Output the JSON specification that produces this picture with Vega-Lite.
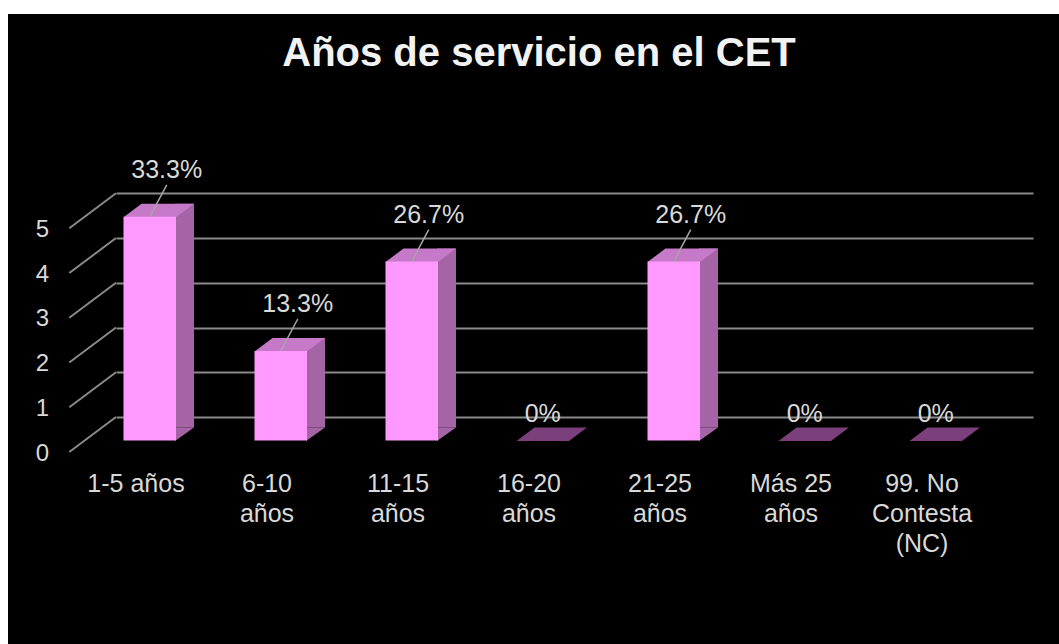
{
  "$schema": "https://vega.github.io/schema/vega-lite/v6.json",
  "width": 1051,
  "height": 630,
  "autosize": {"type": "none"},
  "padding": {"left": 8, "top": 14, "right": 0, "bottom": 0},
  "background": "white",
  "title": {
    "text": "Años de servicio en el CET",
    "font": "Liberation Sans",
    "fontSize": 40,
    "fontWeight": "bold",
    "color": "#f2f2f2",
    "anchor": "middle",
    "frame": "group",
    "baseline": "alphabetic",
    "offset": -92,
    "dx": 5.5
  },
  "config": {
    "view": {"fill": "black", "stroke": null},
    "font": "Liberation Sans"
  },
  "datasets": {
    "servicio": [
      {"rango": "1-5 años", "personas": 5, "porcentaje": "33.3%"},
      {"rango": "6-10\naños", "personas": 2, "porcentaje": "13.3%"},
      {"rango": "11-15\naños", "personas": 4, "porcentaje": "26.7%"},
      {"rango": "16-20\naños", "personas": 0, "porcentaje": "0%"},
      {"rango": "21-25\naños", "personas": 4, "porcentaje": "26.7%"},
      {"rango": "Más 25\naños", "personas": 0, "porcentaje": "0%"},
      {"rango": "99. No\nContesta\n(NC)", "personas": 0, "porcentaje": "0%"}
    ],
    "marcas": [
      {"marca": 0}, {"marca": 1}, {"marca": 2}, {"marca": 3}, {"marca": 4}, {"marca": 5}
    ]
  },
  "layer": [
    {
      "data": {"name": "marcas"},
      "mark": {"type": "point", "shape": "M -112.2 35 L -65.5 0", "size": 4, "filled": false, "stroke": "#8a8a8a", "strokeWidth": 2, "opacity": 1},
      "encoding": {
        "x": {"datum": "1-5 años", "type": "nominal"},
        "y": {"field": "marca", "type": "quantitative"}
      }
    },
    {
      "data": {"name": "servicio"},
      "transform": [{"filter": "datum.personas > 0"}],
      "mark": {"type": "bar", "width": 19, "xOffset": 3, "yOffset": 10.5, "y2Offset": 10.5, "color": "#a564a6", "opacity": 1},
      "encoding": {
        "x": {"field": "rango", "type": "nominal"},
        "y": {"field": "personas", "type": "quantitative"},
        "y2": {"datum": 0}
      }
    },
    {
      "data": {"name": "servicio"},
      "transform": [{"filter": "datum.personas > 0"}],
      "mark": {"type": "point", "shape": "M -6.5 10.5 L 12.5 10.5 L -6.5 24 Z", "size": 4, "filled": true, "strokeWidth": 0, "color": "#a564a6", "opacity": 1},
      "encoding": {
        "x": {"field": "rango", "type": "nominal"},
        "y": {"datum": 0, "type": "quantitative"}
      }
    },
    {
      "data": {"name": "servicio"},
      "mark": {"type": "point", "shape": "M -58 24 L -5.5 24 L 12.5 10.5 L -40 10.5 Z", "size": 4, "filled": true, "strokeWidth": 0, "opacity": 1},
      "encoding": {
        "x": {"field": "rango", "type": "nominal"},
        "y": {"field": "personas", "type": "quantitative"},
        "color": {
          "condition": {"test": "datum.personas == 0", "value": "#7b3f7c"},
          "value": "#c679c8"
        }
      }
    },
    {
      "data": {"name": "servicio"},
      "mark": {"type": "bar", "width": 52.5, "xOffset": -31.75, "yOffset": 23.5, "y2Offset": 23.5, "color": "#ff99ff", "opacity": 1},
      "encoding": {
        "x": {
          "field": "rango",
          "type": "nominal",
          "sort": null,
          "scale": {
            "domain": ["1-5 años", "6-10\naños", "11-15\naños", "16-20\naños", "21-25\naños", "Más 25\naños", "99. No\nContesta\n(NC)"],
            "range": [108, 1025],
            "paddingInner": 0,
            "paddingOuter": 0
          },
          "axis": {
            "title": null,
            "orient": "bottom",
            "offset": -173,
            "domain": false,
            "ticks": false,
            "tickSize": 0,
            "grid": false,
            "labelPadding": 0,
            "labelOffset": -45.5,
            "labelAngle": 0,
            "labelAlign": "center",
            "labelBaseline": "top",
            "labelExpr": "split(datum.label, '\\n')",
            "labelLineHeight": 30,
            "labelFont": "Liberation Sans",
            "labelFontSize": 25,
            "labelColor": "#d9d9d9",
            "labelOverlap": false,
            "labelLimit": 0
          }
        },
        "y": {
          "field": "personas",
          "type": "quantitative",
          "scale": {"domain": [0, 5], "range": [403, 179.3], "nice": false, "zero": true},
          "axis": {
            "title": null,
            "orient": "left",
            "offset": -40.5,
            "values": [0, 1, 2, 3, 4, 5],
            "format": "d",
            "domain": false,
            "ticks": false,
            "tickSize": 0,
            "grid": true,
            "gridColor": "#8a8a8a",
            "gridWidth": 2,
            "labelPadding": 0,
            "labelOffset": 36,
            "labelFont": "Liberation Sans",
            "labelFontSize": 24,
            "labelColor": "#d9d9d9"
          }
        },
        "y2": {"datum": 0}
      }
    },
    {
      "data": {"name": "servicio"},
      "transform": [{"filter": "datum.personas > 0"}],
      "mark": {"type": "point", "shape": "M -31.75 23.5 L -14.75 -8.5", "size": 4, "filled": false, "stroke": "#a6a6a6", "strokeWidth": 1.5, "opacity": 1},
      "encoding": {
        "x": {"field": "rango", "type": "nominal"},
        "y": {"field": "personas", "type": "quantitative"}
      }
    },
    {
      "data": {"name": "servicio"},
      "transform": [{"filter": "datum.personas > 0"}],
      "mark": {"type": "text", "dx": -14.75, "dy": -15.5, "align": "center", "baseline": "alphabetic", "font": "Liberation Sans", "fontSize": 25, "color": "#d9d9d9"},
      "encoding": {
        "x": {"field": "rango", "type": "nominal"},
        "y": {"field": "personas", "type": "quantitative"},
        "text": {"field": "porcentaje"}
      }
    },
    {
      "data": {"name": "servicio"},
      "transform": [{"filter": "datum.personas == 0"}],
      "mark": {"type": "text", "dx": -31.75, "dy": 5.2, "align": "center", "baseline": "alphabetic", "font": "Liberation Sans", "fontSize": 25, "color": "#d9d9d9"},
      "encoding": {
        "x": {"field": "rango", "type": "nominal"},
        "y": {"field": "personas", "type": "quantitative"},
        "text": {"field": "porcentaje"}
      }
    }
  ]
}
